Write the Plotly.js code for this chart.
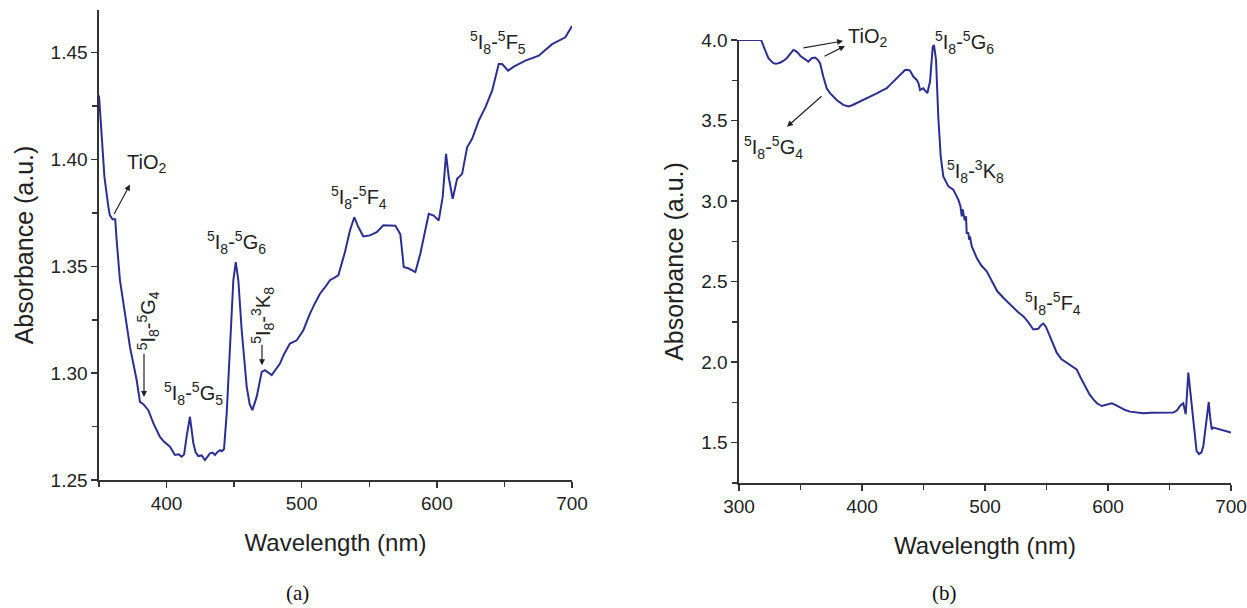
<!DOCTYPE html>
<html>
<head>
<meta charset="utf-8">
<script src="https://cdn.plot.ly/plotly-3.0.1.min.js"></script>
<style>html,body{margin:0;padding:0;background:#fff;}#chart{width:1247px;height:608px;}</style>
</head>
<body>
<div id="chart"></div>
<script>
// ---- Panel (a): wavelength (nm) and absorbance ----
const wavelengthA = [350,352,354,356.9,358,360,362,363.1,365.5,369.2,372.9,377.9,380.3,382.8,386.5,390.2,395.1,398,402.5,406.2,409,411.2,413,415,417.3,419.8,421.5,423.5,426,428.4,430,432.1,434,435.8,437.5,439.5,441,442.5,444.5,446.9,449.4,451.2,453.1,455.6,459.3,461.5,463.5,466.7,470.4,472.8,477.8,483.9,487,491.3,496.3,501.2,506.1,510,513.5,517,520.9,527.1,532,535.7,538.9,541.9,545.6,550.5,555.5,560.4,564.1,569.3,573,575.5,579.2,584.1,587.8,594,597.7,601.4,604.3,606.8,608.8,611.7,615,618.7,622.4,626.1,631,635.9,640.9,645.8,648.3,652.7,656.9,665.5,675.4,685.3,695.1,700];
const absorbanceA = [1.430,1.410,1.392,1.378,1.374,1.372,1.372,1.362,1.3435,1.328,1.3123,1.2967,1.2866,1.2855,1.2827,1.2766,1.2702,1.268,1.2656,1.2617,1.262,1.2609,1.262,1.271,1.2796,1.2673,1.263,1.2612,1.2615,1.2593,1.2605,1.2625,1.2628,1.2617,1.263,1.264,1.2635,1.2645,1.2812,1.3123,1.3435,1.352,1.3435,1.320,1.2936,1.2855,1.2827,1.289,1.3006,1.3014,1.2991,1.3045,1.309,1.3139,1.3154,1.3201,1.3279,1.333,1.3372,1.340,1.3435,1.3458,1.3567,1.3668,1.373,1.3684,1.364,1.3645,1.366,1.3692,1.3692,1.369,1.365,1.3497,1.349,1.3473,1.356,1.3746,1.3738,1.3715,1.3824,1.4027,1.3917,1.3816,1.391,1.3933,1.4057,1.4097,1.4182,1.4244,1.4322,1.4447,1.4447,1.4416,1.4435,1.4463,1.4486,1.454,1.4572,1.4625];

// ---- Panel (b): wavelength (nm) and absorbance ----
const wavelengthB = [300,318,320,323.9,327.9,330,333.3,336,338.8,341,344.2,346,348.2,350,352.3,354,356.4,359.1,361.8,364,365.9,368.5,371.3,374,376.5,379.4,384.8,388.9,392,395.7,401,406.5,412,417.3,420,422,424.1,427,429.5,432,435,437,439,441.7,444.5,446,447.2,449.8,451.5,453.1,455.3,457.5,458.5,460.2,462,464,466.1,470.2,474.2,478.3,480,481.1,481.8,482.4,483.5,484.6,485.1,486.4,487.2,487.8,489.2,493.3,497,501.4,506.8,510,514.9,519,523,527,531.1,535,539.3,543.3,545.5,547.4,549.5,551.5,555,558.3,562,566.4,570,574.5,578,581.3,585,588.1,591,594.9,599,603,606,609.8,614,617.9,623,628.7,635,642.3,648,653.1,656,658.5,661.2,663.2,665.3,668,670.7,672,674,676,677.5,680.2,681.9,683,684.3,685.6,691.1,695,700];
const absorbanceB = [4.0,4.0,3.96,3.887,3.856,3.852,3.859,3.87,3.887,3.905,3.938,3.932,3.918,3.90,3.887,3.876,3.866,3.887,3.891,3.878,3.856,3.773,3.70,3.67,3.65,3.628,3.597,3.587,3.595,3.608,3.628,3.649,3.668,3.690,3.70,3.715,3.732,3.75,3.773,3.795,3.814,3.815,3.81,3.773,3.752,3.73,3.69,3.70,3.685,3.67,3.742,3.958,3.969,3.876,3.525,3.277,3.153,3.091,3.071,3.009,2.97,2.905,2.95,2.926,2.88,2.905,2.802,2.802,2.76,2.78,2.72,2.647,2.60,2.564,2.482,2.44,2.40,2.37,2.338,2.31,2.286,2.25,2.203,2.207,2.23,2.24,2.22,2.183,2.12,2.059,2.02,1.997,1.98,1.955,1.90,1.852,1.80,1.769,1.745,1.728,1.735,1.745,1.735,1.718,1.703,1.693,1.688,1.683,1.686,1.687,1.685,1.687,1.70,1.728,1.745,1.677,1.935,1.728,1.522,1.45,1.429,1.44,1.48,1.667,1.753,1.66,1.584,1.594,1.584,1.575,1.563];

// ---- Labels ----
const transitionLabelsA = ['TiO<sub>2</sub>','<sup>5</sup>I<sub>8</sub>-<sup>5</sup>G<sub>4</sub>','<sup>5</sup>I<sub>8</sub>-<sup>5</sup>G<sub>5</sub>','<sup>5</sup>I<sub>8</sub>-<sup>5</sup>G<sub>6</sub>','<sup>5</sup>I<sub>8</sub>-<sup>3</sup>K<sub>8</sub>','<sup>5</sup>I<sub>8</sub>-<sup>5</sup>F<sub>4</sub>','<sup>5</sup>I<sub>8</sub>-<sup>5</sup>F<sub>5</sub>'];
const labelXA = [385.5,386.3,419.9,452.1,471.0,542.4,644.9];
const labelYA = [1.3981,1.3243,1.2907,1.3612,1.3271,1.3822,1.4547];
const labelAngleA = [0,-90,0,0,-90,0,0];

const transitionLabelsB = ['TiO<sub>2</sub>','<sup>5</sup>I<sub>8</sub>-<sup>5</sup>G<sub>4</sub>','<sup>5</sup>I<sub>8</sub>-<sup>5</sup>G<sub>6</sub>','<sup>5</sup>I<sub>8</sub>-<sup>3</sup>K<sub>8</sub>','<sup>5</sup>I<sub>8</sub>-<sup>5</sup>F<sub>4</sub>'];
const labelXB = [404.1,328.0,483.7,491.9,554.9];
const labelYB = [3.99,3.331,3.985,3.182,2.364];
const labelShiftB = [4,0,0,0,0];

// arrows: [tailX, tailY, headX, headY]
const arrowsA = [[360.6,1.3738,372.9,1.3883],[383.3,1.3098,383.3,1.2888],[470.6,1.314,470.6,1.3037]];
const arrowsB = [[351.2,3.950,384.6,3.994],[368.3,3.895,386.2,3.963],[368.3,3.659,339.0,3.461]];

const lineColor = '#2c2f8f';
const inkColor = '#222222';

const traces = [
  {x: wavelengthA, y: absorbanceA, xaxis:'x', yaxis:'y', type:'scatter', mode:'lines',
   line:{color:lineColor, width:2}, hoverinfo:'skip'},
  {x: wavelengthB, y: absorbanceB, xaxis:'x2', yaxis:'y2', type:'scatter', mode:'lines',
   line:{color:lineColor, width:2}, hoverinfo:'skip'}
];

function axisStyle(extra){
  return Object.assign({
    showline:true, linecolor:'#333', linewidth:1.6, mirror:false,
    ticks:'outside', ticklen:6, tickwidth:1.5, tickcolor:'#333',
    showgrid:false, zeroline:false, automargin:false,
    tickfont:{size:19, color:inkColor}
  }, extra);
}

const annotations = [];
transitionLabelsA.forEach((t,i)=>annotations.push({
  xref:'x', yref:'y', x:labelXA[i], y:labelYA[i], text:t, textangle:labelAngleA[i],
  showarrow:false, font:{size:20, color:inkColor}
}));
transitionLabelsB.forEach((t,i)=>annotations.push({
  xref:'x2', yref:'y2', x:labelXB[i], y:labelYB[i], yshift:labelShiftB[i], text:t,
  showarrow:false, font:{size:20, color:inkColor}
}));
arrowsA.forEach(a=>annotations.push({
  xref:'x', yref:'y', axref:'x', ayref:'y', ax:a[0], ay:a[1], x:a[2], y:a[3], text:'',
  showarrow:true, arrowhead:2, arrowsize:1, arrowwidth:1.2, arrowcolor:inkColor
}));
arrowsB.forEach(a=>annotations.push({
  xref:'x2', yref:'y2', axref:'x2', ayref:'y2', ax:a[0], ay:a[1], x:a[2], y:a[3], text:'',
  showarrow:true, arrowhead:2, arrowsize:1, arrowwidth:1.2, arrowcolor:inkColor
}));
annotations.push({xref:'paper', yref:'paper', x:297/1247, y:(608-593)/608, xanchor:'center', yanchor:'middle', text:'(a)', showarrow:false,
  font:{family:'Liberation Serif, Times New Roman, serif', size:21, color:'#111'}});
annotations.push({xref:'paper', yref:'paper', x:944/1247, y:(608-593)/608, xanchor:'center', yanchor:'middle', text:'(b)', showarrow:false,
  font:{family:'Liberation Serif, Times New Roman, serif', size:21, color:'#111'}});

const layout = {
  width:1247, height:608,
  margin:{l:0, r:0, t:0, b:0},
  paper_bgcolor:'#ffffff', plot_bgcolor:'#ffffff',
  showlegend:false,
  font:{family:'Liberation Sans, Arial, sans-serif', color:inkColor, size:18},
  xaxis: axisStyle({domain:[99/1247, 572/1247], anchor:'y', range:[350,700], tick0:0, dtick:100,
    minor:{dtick:50, tick0:0, ticks:'outside', ticklen:5, tickwidth:1.5, tickcolor:'#333'},
    title:{text:'Wavelength (nm)', font:{size:24, color:inkColor}, standoff:21}}),
  yaxis: axisStyle({domain:[(608-480)/608, (608-10)/608], anchor:'x', range:[1.25,1.47], tick0:1.25, dtick:0.05, tickformat:'.2f',
    minor:{dtick:0.025, tick0:1.25, ticks:'outside', ticklen:5, tickwidth:1.5, tickcolor:'#333'},
    title:{text:'Absorbance (a.u.)', font:{size:25, color:inkColor}, standoff:10}}),
  xaxis2: axisStyle({domain:[739/1247, 1231/1247], anchor:'y2', range:[300,700], tick0:0, dtick:100,
    minor:{dtick:50, tick0:0, ticks:'outside', ticklen:5, tickwidth:1.5, tickcolor:'#333'},
    title:{text:'Wavelength (nm)', font:{size:24, color:inkColor}, standoff:21}}),
  yaxis2: axisStyle({domain:[(608-483)/608, (608-40)/608], anchor:'x2', range:[1.25,4.0], tick0:0, dtick:0.5, tickformat:'.1f',
    minor:{dtick:0.25, tick0:0, ticks:'outside', ticklen:5, tickwidth:1.5, tickcolor:'#333'},
    title:{text:'Absorbance (a.u.)', font:{size:25, color:inkColor}, standoff:10}}),
  annotations: annotations
};

Plotly.newPlot('chart', traces, layout, {staticPlot:true, displayModeBar:false});
</script>
</body>
</html>
